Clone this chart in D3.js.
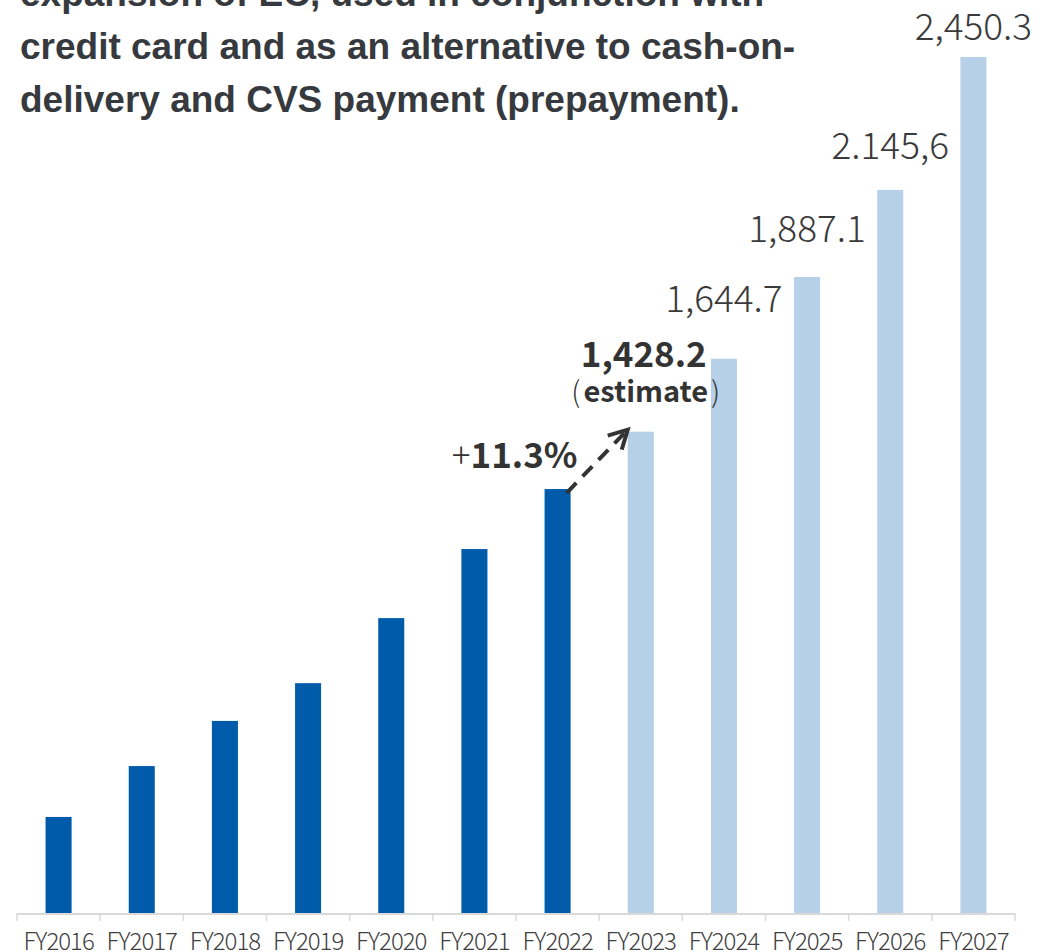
<!DOCTYPE html>
<html>
<head>
<meta charset="utf-8">
<script src="https://cdn.jsdelivr.net/npm/d3@7"></script>
<style>
  body { margin: 0; background: #fff; }
  svg { display: block; }
</style>
</head>
<body>
<div id="chart"></div>
<script>
// fiscal years on the x axis
var years = ["FY2016", "FY2017", "FY2018", "FY2019", "FY2020", "FY2021", "FY2022",
             "FY2023", "FY2024", "FY2025", "FY2026", "FY2027"];

// bar heights
var amounts = [285, 436, 570, 682, 875, 1080, 1258, 1428.2, 1644.7, 1887.1, 2145.6, 2540];

// forecast bars are drawn light blue
var isEstimate = [false, false, false, false, false, false, false, true, true, true, true, true];

// labels printed above the forecast bars (kept as in the original)
var valueLabels = ["", "", "", "", "", "", "", "1,428.2", "1,644.7", "1,887.1", "2.145,6", "2,450.3"];

var growthLabel = "11.3%";

var titleLines = [
    "expansion of EC, used in conjunction with",
    "credit card and as an alternative to cash-on-",
    "delivery and CVS payment (prepayment)."
];

// layout
var width = 1056,
    height = 952;

// how far each light label sits above its bar (hand placed in the original)
var labelLift = { "FY2024": 47, "FY2025": 35, "FY2026": 31, "FY2027": 17 };

var svg = d3.select("#chart")
    .append("svg")
    .attr("width", width)
    .attr("height", height);

var x = d3.scaleBand()
    .domain(years)
    .range([17, 1015])
    .paddingInner(0.687)
    .paddingOuter(0.3435);

var y = d3.scaleLinear()
    .domain([0, d3.max(amounts)])
    .range([913, 57]);

var data = years.map((d, i) => {
    return { year: d, value: amounts[i], est: isEstimate[i], label: valueLabels[i] };
});

// title (first line is cut by the top edge)
svg.append("g")
    .selectAll("text")
    .data(titleLines)
    .enter()
    .append("text")
    .attr("x", 20)
    .attr("y", (d, i) => 6 + i * 53)
    .attr("font-family", "'Liberation Sans', Arial, sans-serif")
    .attr("font-weight", "bold")
    .attr("font-size", "37px")
    .attr("fill", "#363a3e")
    .text(d => d);

// bars
svg.selectAll(".bar")
    .data(data)
    .enter()
    .append("rect")
    .attr("class", "bar")
    .attr("x", d => x(d.year))
    .attr("width", x.bandwidth())
    .attr("y", d => y(d.value))
    .attr("height", d => y(0) - y(d.value))
    .attr("fill", d => d.est ? "#b6d0e8" : "#005bab");

// axis line with ticks on the band boundaries
var axisG = svg.append("g");
axisG.append("line")
    .attr("x1", x.range()[0])
    .attr("x2", x.range()[1])
    .attr("y1", y(0) + 1)
    .attr("y2", y(0) + 1)
    .attr("stroke", "#d9d9d9")
    .attr("stroke-width", 2);

axisG.selectAll(".tick-line")
    .data(d3.range(years.length + 1))
    .enter()
    .append("line")
    .attr("x1", i => x.range()[0] + i * x.step())
    .attr("x2", i => x.range()[0] + i * x.step())
    .attr("y1", y(0))
    .attr("y2", y(0) + 8)
    .attr("stroke", "#d9d9d9")
    .attr("stroke-width", 1.5);

var xAxis = svg.append("g")
    .attr("transform", "translate(0," + (y(0) + 37) + ")")
    .call(d3.axisBottom(x).tickSize(0).tickPadding(0));
xAxis.select(".domain").remove();
xAxis.selectAll("text")
    .attr("dy", 0)
    .attr("font-family", "'Noto Sans CJK JP', 'Noto Sans', sans-serif")
    .attr("font-weight", 300)
    .attr("font-size", "24px")
    .attr("letter-spacing", "-1px")
    .attr("fill", "#404040");

// light value labels
var numFont = "'Noto Sans CJK JP', 'Noto Sans', sans-serif";
svg.selectAll(".vlabel")
    .data(data.filter(d => labelLift[d.year] !== undefined))
    .enter()
    .append("text")
    .attr("class", "vlabel")
    .attr("x", d => x(d.year) + x.bandwidth() / 2)
    .attr("y", d => y(d.value) - labelLift[d.year])
    .attr("text-anchor", "middle")
    .attr("font-family", numFont)
    .attr("font-weight", 300)
    .attr("font-size", "37px")
    .attr("fill", "#3a3a3a")
    .text(d => d.label);

// FY2023 estimate label
var est = data[7];
var estX = x(est.year) + x.bandwidth() / 2 + 3;
svg.append("text")
    .attr("x", estX)
    .attr("y", y(est.value) - 65)
    .attr("text-anchor", "middle")
    .attr("font-family", numFont)
    .attr("font-weight", "bold")
    .attr("font-size", "35px")
    .attr("fill", "#333")
    .text(est.label);

var estNote = svg.append("text")
    .attr("x", estX + 2)
    .attr("y", y(est.value) - 30)
    .attr("text-anchor", "middle")
    .attr("font-family", numFont)
    .attr("font-weight", "bold")
    .attr("font-size", "29px")
    .attr("fill", "#333");
estNote.append("tspan").attr("font-weight", 300).text("(");
estNote.append("tspan").attr("dx", 3).text("estimate");
estNote.append("tspan").attr("dx", 3).attr("font-weight", 300).text(")");

// growth arrow from FY2022 to FY2023
var prev = data[6];
var x0 = x(prev.year) + x.bandwidth() - 4,
    y0 = y(prev.value) + 4,
    x1 = x(est.year),
    y1 = y(est.value) - 2;

svg.append("line")
    .attr("x1", x0)
    .attr("y1", y0)
    .attr("x2", x1 - 3)
    .attr("y2", y1 + 3)
    .attr("stroke", "#333")
    .attr("stroke-width", 4)
    .attr("stroke-dasharray", "14,9");

svg.append("path")
    .attr("d", "M" + (x1 - 20) + "," + (y1 + 6) + " L" + x1 + "," + y1 + " L" + (x1 - 6) + "," + (y1 + 20))
    .attr("fill", "none")
    .attr("stroke", "#333")
    .attr("stroke-width", 4);

var growth = svg.append("text")
    .attr("x", x(prev.year) + x.bandwidth() / 2 + 20)
    .attr("y", y(prev.value) - 21)
    .attr("text-anchor", "end")
    .attr("font-family", numFont)
    .attr("font-size", "35px")
    .attr("fill", "#333");
growth.append("tspan").attr("font-weight", 300).text("+");
growth.append("tspan").attr("font-weight", "bold").text(growthLabel);
</script>
</body>
</html>
